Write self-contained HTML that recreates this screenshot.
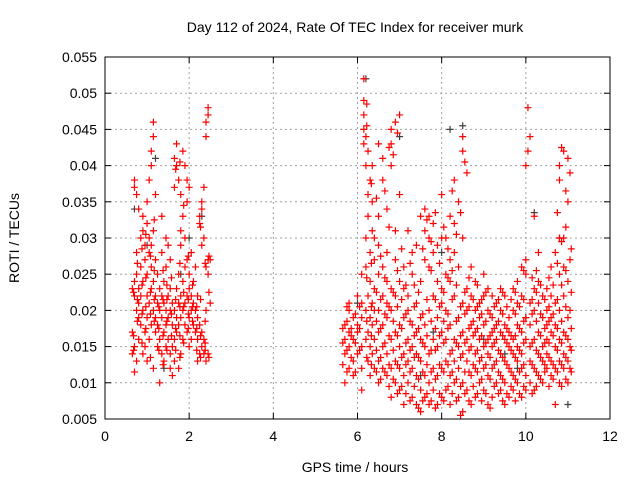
<!DOCTYPE html>
<html><head><meta charset="utf-8"><style>
body{margin:0;background:#fff}
svg{display:block;font-family:"Liberation Sans",sans-serif}
</style></head><body>
<svg id="chart" width="640" height="480" viewBox="0 0 640 480">
<rect width="640" height="480" fill="#fff"/>
<text x="355" y="32" font-size="14" text-anchor="middle">Day 112 of 2024, Rate Of TEC Index for receiver murk</text>
<text x="355" y="472" font-size="14" text-anchor="middle">GPS time / hours</text>
<text transform="translate(19,238) rotate(-90)" font-size="14" text-anchor="middle">ROTI / TECUs</text>
<g id="grid"></g><g id="ticks"></g><g id="marks"></g>
<rect x="105" y="57" width="505" height="362" fill="none" stroke="#000" stroke-width="1"/>
</svg>
<script>
const xTicks=[0,2,4,6,8,10,12];
const yTicks=[0.005,0.01,0.015,0.02,0.025,0.03,0.035,0.04,0.045,0.05,0.055];
const yTickLabels=["0.005","0.01","0.015","0.02","0.025","0.03","0.035","0.04","0.045","0.05","0.055"];
const redTimes=[0.65,0.7,0.75,0.8,0.85,0.9,0.95,1.0,1.05,1.1,1.15,1.2,1.25,1.3,1.35,1.4,1.45,1.5,1.55,1.6,1.65,1.7,1.75,1.8,1.85,1.9,1.95,2.0,2.05,2.1,2.15,2.2,2.25,2.3,2.35,2.4,2.45,2.5,
5.7,5.8,5.9,6.0,6.1,6.15,6.2,6.25,6.3,6.35,6.4,6.5,6.6,6.7,6.8,6.9,7.0,7.1,7.2,7.3,7.4,7.5,7.6,7.7,7.8,7.9,8.0,8.1,8.2,8.3,8.4,8.5,8.6,8.7,8.8,8.9,9.0,9.1,9.2,9.3,9.4,9.5,9.6,9.7,9.8,9.9,10.0,10.05,10.1,10.2,10.3,10.4,10.5,10.6,10.7,10.8,10.9,11.0,11.05];
const redRoti=[[.017,.023,.014],[.0115,.015,.022,.024,.037,.038],[.013,.02,.025,.036,.028],[.016,.019,.021,.023,.034],[.018,.022,.026,.03],[.014,.02,.024,.031,.033],[.015,.017,.027,.029],[.013,.019,.022,.025,.032,.035],[.016,.021,.028,.03,.038],[.018,.023,.026,.029,.04,.042],[.02,.024,.031,.044,.046,.012],[.017,.019,.022,.027,.036],[.015,.018,.021,.025],[.01,.016,.02,.023],[.014,.019,.022,.028,.033],[.013,.017,.021,.024],[.015,.018,.02,.026,.03],[.016,.019,.022,.029],[.012,.014,.02,.023,.027],[.011,.015,.018,.021],[.013,.016,.02,.037,.041],[.017,.019,.023,.04,.043],[.012,.018,.021,.025,.038],[.014,.019,.022,.029,.031,.036],[.016,.02,.024,.033,.042],[.018,.021,.026,.03,.04],[.017,.022,.027,.035,.038],[.015,.019,.023,.025,.037],[.016,.02,.022,.028],[.018,.021,.024],[.017,.02,.026],[.013,.016,.019,.022],[.014,.018,.032,.033],[.015,.017,.029,.034,.035],[.014,.016,.03,.037],[.013,.02,.026,.044,.046],[.014,.025,.027,.047,.048],[.021,.027],
[.01,.014,.016,.018],[.012,.015,.017,.02,.021],[.011,.013,.016,.019],[.014,.017,.018,.022],[.009,.012,.015,.019,.021,.025],[.043,.045,.047,.049,.052],[.016,.02,.026,.03,.04,.044],[.013,.017,.022,.033,.036,.042],[.011,.015,.019,.024,.028,.038],[.014,.018,.021,.031,.035,.04],[.012,.016,.02,.023,.027,.03],[.01,.013,.017,.02,.025,.029,.033,.043],[.012,.015,.018,.022,.026,.038,.041],[.011,.014,.019,.021,.024,.028,.034],[.008,.012,.016,.02,.023,.04,.043,.045],[.01,.013,.017,.022,.027,.031,.046],[.009,.012,.015,.018,.024,.036,.047],[.007,.011,.014,.019,.023,.026],[.01,.013,.016,.02,.022,.031],[.008,.012,.015,.018,.025,.028],[.007,.011,.014,.017,.021,.029],[.006,.009,.013,.016,.019,.024,.033],[.008,.011,.015,.018,.027,.031,.034],[.007,.01,.014,.02,.026,.03,.033],[.009,.012,.016,.022,.028,.032],[.007,.011,.015,.019,.024,.029],[.008,.012,.017,.021,.023,.03,.036],[.009,.013,.016,.02,.025,.03],[.007,.011,.014,.018,.024,.027,.033],[.01,.013,.016,.022,.028,.032,.038],[.008,.012,.015,.019,.026,.035],[.006,.01,.014,.017,.021,.03,.042,.044],[.009,.013,.016,.02,.023,.039],[.007,.011,.015,.018,.022,.026],[.008,.012,.014,.017,.02,.024],[.01,.013,.016,.019,.021],[.009,.012,.015,.018,.022,.025],[.007,.011,.014,.016,.02,.023],[.008,.012,.015,.017,.019,.022],[.01,.013,.016,.018,.021],[.009,.011,.014,.017,.02,.023],[.007,.01,.013,.016,.018,.022],[.008,.012,.015,.017,.019],[.009,.011,.014,.016,.02,.023],[.01,.013,.015,.018,.021,.024],[.008,.012,.014,.017,.022,.026],[.009,.011,.016,.019,.025,.027,.04],[.042,.048],[.01,.013,.015,.018,.021,.044],[.009,.012,.016,.02,.023,.033],[.011,.014,.017,.021,.024,.028],[.01,.013,.015,.019,.022],[.012,.014,.016,.018,.02,.023],[.011,.013,.017,.019,.022,.026],[.007,.012,.015,.018,.021,.028],[.01,.013,.016,.02,.025,.03,.038,.04],[.012,.014,.017,.022,.026,.03,.042],[.01,.013,.016,.019,.024,.035,.041],[.012,.015,.02,.027,.039]];
const redTimes2=[0.68,0.77,0.88,0.97,1.08,1.17,1.28,1.38,1.47,1.58,1.68,1.78,1.87,1.98,2.08,2.18,2.27,2.38,2.47,
5.65,5.75,5.85,5.95,6.05,6.22,6.33,6.45,6.55,6.65,6.75,6.85,6.95,7.05,7.15,7.25,7.35,7.45,7.55,7.65,7.75,7.85,7.95,8.05,8.15,8.25,8.35,8.45,8.55,8.65,8.75,8.85,8.95,9.05,9.15,9.25,9.35,9.45,9.55,9.65,9.75,9.85,9.95,10.15,10.25,10.35,10.45,10.55,10.65,10.75,10.85,10.95,11.08];
const redRoti2=[[.0165,.0225,.0145],[.0185,.0215,.0265],[.0155,.0195,.0285,.0235],[.0175,.0205,.0245,.0305],[.0135,.0195,.0225,.0275],[.0185,.0215,.0255,.0325],[.0145,.0175,.0205],[.0125,.0165,.0215,.0255],[.0145,.0185,.0215,.0235],[.0165,.0195,.0245],[.0145,.0175,.0215,.0395],[.0135,.0165,.0205,.0265,.0405],[.0155,.0205,.0225,.0345],[.0175,.0195,.0215,.0275],[.0185,.0205,.0235],[.0145,.0175,.0205],[.0135,.0165,.0215,.0315],[.0145,.0155,.0185,.0265],[.0135,.0225,.0275],
[.0125,.0155,.0175],[.0115,.0145,.0185,.0205],[.0135,.0165,.0175],[.0115,.0155,.0195],[.0145,.0175,.0205],[.0135,.0185,.0245,.0455,.0485],[.0125,.0165,.0205,.0265,.0375],[.0115,.0145,.0185,.0225,.0355],[.0105,.0135,.0175,.0215,.0275],[.0115,.0155,.0195,.0245,.0365],[.0095,.0125,.0165,.0205,.0315,.0425],[.0105,.0145,.0185,.0225,.0415],[.0085,.0125,.0165,.0205,.0255,.0445],[.0095,.0135,.0175,.0215,.0285],[.0085,.0125,.0155,.0195,.0235],[.0075,.0115,.0145,.0185,.0265],[.0095,.0135,.0165,.0205,.0235],[.0065,.0105,.0135,.0175,.0225],[.0075,.0115,.0155,.0195,.0285],[.0085,.0125,.0165,.0215,.0325],[.0075,.0115,.0145,.0185,.0255,.0295],[.0065,.0105,.0145,.0175,.0215,.0335],[.0085,.0125,.0165,.0205,.0265],[.0075,.0115,.0155,.0185,.0225,.0315],[.0095,.0125,.0175,.0195,.0245,.0285],[.0085,.0115,.0145,.0215,.0255,.0365],[.0075,.0105,.0155,.0185,.0235,.0305],[.0055,.0095,.0135,.0165,.0205,.0335],[.0085,.0115,.0155,.0195,.0225,.0405],[.0075,.0115,.0145,.0175,.0205,.0245],[.0095,.0125,.0165,.0185,.0215],[.0085,.0115,.0145,.0175,.0205,.0235],[.0075,.0105,.0135,.0165,.0195,.0215],[.0085,.0125,.0155,.0185,.0225],[.0065,.0105,.0135,.0165,.0195],[.0095,.0125,.0155,.0175,.0205],[.0085,.0115,.0145,.0185,.0215],[.0075,.0105,.0135,.0165,.0195,.0225],[.0085,.0125,.0155,.0175,.0205],[.0095,.0115,.0145,.0165,.0215],[.0075,.0105,.0135,.0165,.0195,.0225],[.0085,.0115,.0145,.0175,.0205],[.0095,.0125,.0155,.0185,.0215,.0255],[.0085,.0125,.0155,.0195,.0215,.0245],[.0095,.0115,.0145,.0185,.0225,.0255],[.0105,.0135,.0165,.0195,.0235],[.0115,.0125,.0155,.0175,.0215],[.0095,.0135,.0155,.0185,.0205,.0245],[.0105,.0125,.0165,.0195,.0235],[.0115,.0145,.0175,.0215,.0265,.0335],[.0095,.0125,.0155,.0185,.0235,.0295,.0425],[.0105,.0135,.0165,.0205,.0255,.0315,.0365],[.0115,.0145,.0175,.0225,.0285]];
const greyTimes=[0.7,1.0,1.2,1.4,1.8,2.0,2.3,6.0,6.2,7.0,7.5,7.8,8.0,8.2,8.5,9.0,9.5,9.8,10.0,10.2,10.8,11.0];
const greyRoti=[.034,.029,.041,.012,.025,.03,.033,.021,.052,.044,.011,.017,.028,.045,.0455,.016,.014,.012,.019,.0335,.03,.007];
const X0=105,X1=610,Y0=419,Y1=57;
const sx=v=>X0+(v-0)/(12-0)*(X1-X0);
const sy=v=>Y0-(v-0.005)/(0.055-0.005)*(Y0-Y1);
const NS="http://www.w3.org/2000/svg";
const grid=document.getElementById('grid'),ticks=document.getElementById('ticks'),marks=document.getElementById('marks');
function mk(tag,attrs,parent){const e=document.createElementNS(NS,tag);for(const k in attrs)e.setAttribute(k,attrs[k]);parent.appendChild(e);return e;}
xTicks.forEach(t=>{const x=sx(t);
 if(t>0&&t<12){const g=mk('line',{x1:x,x2:x,y1:Y0,y2:Y1,stroke:'#a0a0a0','stroke-dasharray':'2,3'},grid);
 
 }
 mk('line',{x1:x,x2:x,y1:Y0,y2:Y0-6,stroke:'#000'},ticks);mk('line',{x1:x,x2:x,y1:Y1,y2:Y1+6,stroke:'#000'},ticks);
 const l=mk('text',{x:x,y:Y0+22,'font-size':14,'text-anchor':'middle'},ticks);l.textContent=t;
 
 });
yTicks.forEach((t,i)=>{const y=sy(t);
 if(i>0&&i<yTicks.length-1){const g=mk('line',{x1:X0,x2:X1,y1:y,y2:y,stroke:'#a0a0a0','stroke-dasharray':'2,3'},grid);
 
 }
 mk('line',{x1:X0,x2:X0+6,y1:y,y2:y,stroke:'#000'},ticks);mk('line',{x1:X1,x2:X1-6,y1:y,y2:y,stroke:'#000'},ticks);
 const l=mk('text',{x:X0-8,y:y+5,'font-size':14,'text-anchor':'end'},ticks);l.textContent=yTickLabels[i];
 
 });
function plus(t,v,color){const x=sx(t),y=sy(v);
 const p=mk('path',{d:`M${x-3.5},${y}h7M${x},${y-3.5}v7`,stroke:color,'stroke-width':1.2,fill:'none'},marks);
 
 }
greyTimes.forEach((t,i)=>plus(t,greyRoti[i],'#404040'));
redTimes.forEach((t,i)=>redRoti[i].forEach(v=>plus(t,v,'#ff0000')));
redTimes2.forEach((t,i)=>redRoti2[i].forEach(v=>plus(t,v,'#ff0000')));
</script>
</body></html>
